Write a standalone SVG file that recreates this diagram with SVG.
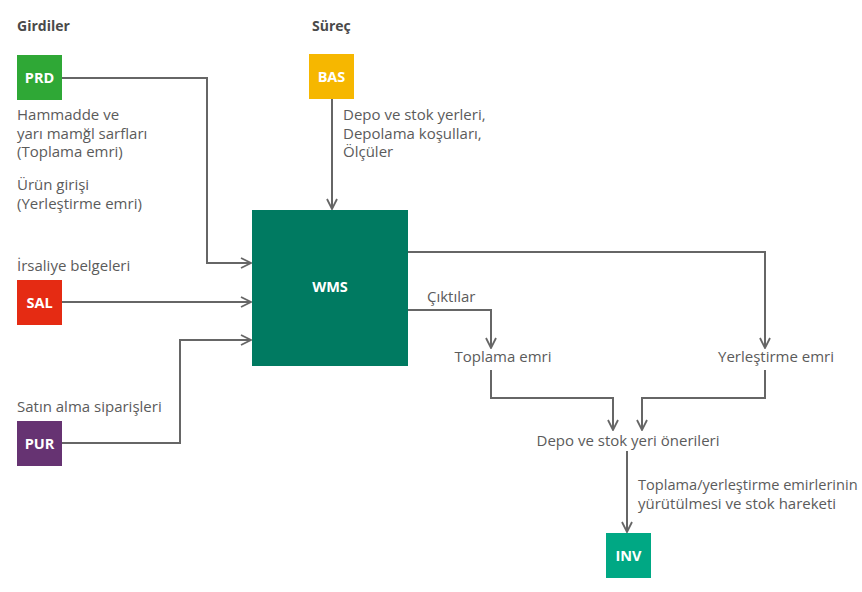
<svg xmlns="http://www.w3.org/2000/svg" width="862" height="592" viewBox="0 0 862 592">
<defs>
<style>
.t{font-family:"Open Sans","Noto Sans","DejaVu Sans",sans-serif;font-size:15px;fill:#5b5b5b}
.h{font-family:"Open Sans","Noto Sans","DejaVu Sans",sans-serif;font-size:14px;font-weight:bold;fill:#4a4a4a}
.b{font-family:"Open Sans","Noto Sans","DejaVu Sans",sans-serif;font-size:14.5px;font-weight:bold;fill:#ffffff}
.c{fill:none;stroke:#666666;stroke-width:2}
</style>
<marker id="ar" viewBox="0 0 12 12" refX="11" refY="6" markerWidth="12" markerHeight="12" markerUnits="userSpaceOnUse" orient="auto">
<path d="M1,1 L11,6 L1,11" fill="none" stroke="#666666" stroke-width="1.8"/>
</marker>
</defs>
<rect width="862" height="592" fill="#ffffff"/>
<text class="h" x="17" y="31">Girdiler</text>
<text class="h" x="312" y="31">Süreç</text>
<g id="connectors">
<path class="c" d="M62,78 H207 V263 H251" marker-end="url(#ar)"/>
<path class="c" d="M62,302 H251" marker-end="url(#ar)"/>
<path class="c" d="M62,443 H180 V340 H251" marker-end="url(#ar)"/>
<path class="c" d="M332,99 V209" marker-end="url(#ar)"/>
<path class="c" d="M408,252 H765 V348" marker-end="url(#ar)"/>
<path class="c" d="M408,310 H491 V348" marker-end="url(#ar)"/>
<path class="c" d="M491,370 V398 H613 V430" marker-end="url(#ar)"/>
<path class="c" d="M765,370 V398 H642 V430" marker-end="url(#ar)"/>
<path class="c" d="M627,451 V532" marker-end="url(#ar)"/>
</g>
<g id="PRD">
<rect x="17" y="55" width="45" height="45" fill="#2fa836"/>
<text class="b" x="39.5" y="82.5" text-anchor="middle">PRD</text>
<text class="t"><tspan x="17" y="120">Hammadde ve</tspan><tspan x="17" y="138.5">yarı mamğl sarfları</tspan><tspan x="17" y="157">(Toplama emri)</tspan><tspan x="17" y="190">Ürün girişi</tspan><tspan x="17" y="208.5">(Yerleştirme emri)</tspan></text>
</g>
<g id="SAL">
<text class="t" x="17" y="271">İrsaliye belgeleri</text>
<rect x="17" y="280" width="45" height="45" fill="#e52b13"/>
<text class="b" x="39.5" y="307.5" text-anchor="middle">SAL</text>
</g>
<g id="PUR">
<text class="t" x="17" y="412">Satın alma siparişleri</text>
<rect x="17" y="421" width="45" height="45" fill="#663372"/>
<text class="b" x="39.5" y="448.5" text-anchor="middle">PUR</text>
</g>
<g id="BAS">
<rect x="309" y="54" width="45" height="45" fill="#f6b700"/>
<text class="b" x="331.5" y="81.5" text-anchor="middle">BAS</text>
<text class="t"><tspan x="343" y="120">Depo ve stok yerleri,</tspan><tspan x="343" y="138.5">Depolama koşulları,</tspan><tspan x="343" y="157">Ölçüler</tspan></text>
</g>
<g id="WMS">
<rect x="252" y="210" width="156" height="156" fill="#007a61"/>
<text class="b" x="330" y="292" text-anchor="middle">WMS</text>
</g>
<g id="outputs">
<text class="t" x="427" y="302">Çıktılar</text>
<text class="t" x="503" y="362" text-anchor="middle">Toplama emri</text>
<text class="t" x="776" y="362" text-anchor="middle">Yerleştirme emri</text>
<text class="t" x="628" y="446" text-anchor="middle">Depo ve stok yeri önerileri</text>
<text class="t"><tspan x="638" y="490" style="font-size:14.6px">Toplama/yerleştirme emirlerinin</tspan><tspan x="638" y="509">yürütülmesi ve stok hareketi</tspan></text>
</g>
<g id="INV">
<rect x="606" y="533" width="45" height="45" fill="#00a884"/>
<text class="b" x="628.5" y="560.5" text-anchor="middle">INV</text>
</g>
</svg>
